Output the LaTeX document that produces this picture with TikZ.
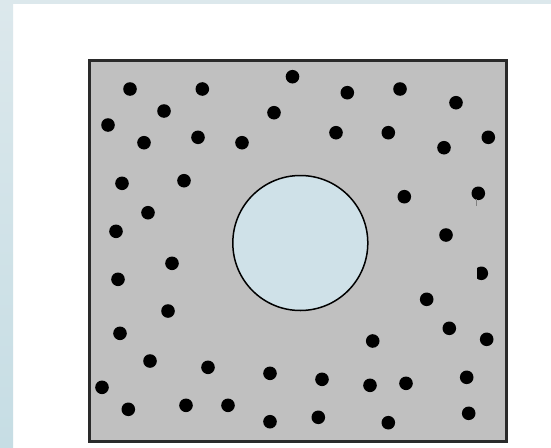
\documentclass[tikz,border=0pt]{standalone}
\usetikzlibrary{shadings}
\definecolor{bgblueA}{HTML}{DCE8EC}
\definecolor{bgblueB}{HTML}{C6DDE4}
\definecolor{plategray}{HTML}{C0C0C0}
\definecolor{holeblue}{HTML}{CFE1E8}
\definecolor{edgedark}{HTML}{2A2A2A}
\tikzset{
  particle/.style={fill=black},
  plate/.style={fill=plategray, draw=edgedark, line width=2.4pt},
  hole/.style={fill=holeblue, draw=black, line width=1.5pt}
}
\begin{document}
\begin{tikzpicture}[x=1pt,y=-1pt]
\useasboundingbox (0,0) rectangle (551,447);
\fill[white] (0,0) rectangle (551,447);
% background strips
\shade[top color=bgblueA, bottom color=bgblueB] (0,0) rectangle (13,447);
\fill[bgblueA] (13,0) rectangle (551,4);
% plate
\draw[plate] (89.5,60.5) rectangle (506.5,441.5);
% hole
\draw[hole] (300.3,243) circle[radius=67.5];
% particles
\foreach \px/\py in {
 130/89, 202.3/89, 292.5/76.7, 164/111, 274/112.7, 108/125, 144/142.7, 198/137.3, 242/142.7,
 122/183.3, 184/180.7, 148/212.7, 116/231.3,
 347.3/92.7, 400/89, 456/102.7, 336/132.7, 388.3/132.7, 444/147.7, 488.3/137.3,
 404.3/196.7, 478.3/193.3, 446/235,
 172/263.3, 118/279.3, 168/311, 120/333.3, 150/361, 208/367.3, 270/373.3, 102/387.3,
 128.3/409.3, 186/405.3, 228/405.3, 270/421.7,
 426.7/299.3, 449.3/328.3, 486.7/339.3, 372.7/341, 322/379.3, 370/385.3, 406/383.3,
 466.7/377.3, 318.3/417.3, 388.3/422.7, 468.7/413.3}
  \fill[particle] (\px,\py) circle[radius=6.8];
% tail on one particle
\draw[gray, line width=0.8pt] (476.5,199) -- (476.5,206);
% half particle
\begin{scope}
  \clip (477,260) rectangle (495,290);
  \fill[particle] (481.3,273.3) circle[radius=6.8];
\end{scope}
\end{tikzpicture}
\end{document}
